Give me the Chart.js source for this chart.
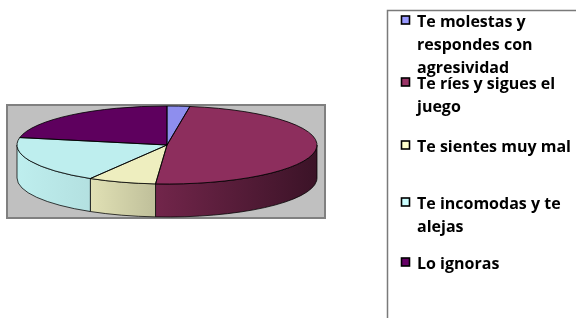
<!DOCTYPE html>
<html>
<head>
<meta charset="utf-8">
<script src="https://cdn.jsdelivr.net/npm/chart.js@4/dist/chart.umd.min.js"></script>
<style>
html,body{margin:0;padding:0;background:#fff;}
#wrap{position:relative;width:576px;height:318px;}
</style>
</head>
<body>
<div id="wrap"><canvas id="c" width="576" height="318"></canvas></div>
<script>
// ---- data ----
const categories = [
  ["Te molestas y", "respondes con", "agresividad"],
  ["Te ríes y sigues el", "juego"],
  ["Te sientes muy mal"],
  ["Te incomodas y te", "alejas"],
  ["Lo ignoras"]
];
const counts = [1, 20, 3, 8, 9];

// ---- styles ----
const topColors = ["#8E8EEE", "#8D2E5D", "#EEEEBF", "#BEEEEE", "#5E005E"];
const legendColors = ["#9999FF", "#993366", "#FFFFCC", "#CCFFFF", "#660066"];
const PIE_CY = 145;      // visual center of the top face
const SQUASH = 0.26;     // vertical squash of the pie
const DEPTH = 33;        // thickness of the 3D side
const legendBaseY = [27, 89, 152, 209, 269];
const LINE_H = 23;
const FONT = "bold 16px 'Open Sans', 'Noto Sans', sans-serif";

function hexToRgb(h){const n=parseInt(h.slice(1),16);return [(n>>16)&255,(n>>8)&255,n&255];}
function shade(h,f){const c=hexToRgb(h);return 'rgb('+c.map(v=>Math.round(v*f)).join(',')+')';}

const pie3d = {
  id: 'pie3d',
  beforeDatasetsDraw(chart){
    const ctx = chart.ctx;
    const meta = chart.getDatasetMeta(0);
    const arcs = meta.data;
    if(!arcs.length) return;
    const cx = arcs[0].x, r = arcs[0].outerRadius;
    const a = r, b = r*SQUASH;
    // plot area background
    ctx.save();
    ctx.fillStyle = '#C0C0C0';
    ctx.strokeStyle = '#808080';
    ctx.lineWidth = 2;
    const L = cx - a - 10, R = cx + a + 8, T = PIE_CY - b - 1, B = PIE_CY + b + DEPTH + 1;
    ctx.fillRect(L, T, R-L, B-T);
    ctx.strokeRect(L, T, R-L, B-T);
    // side walls
    arcs.forEach((arc,i)=>{
      const s = arc.startAngle, e = arc.endAngle;
      const pieces = [];
      for(let k=-1;k<=1;k++){
        const off = k*2*Math.PI;
        const ss = Math.max(s+off, 0), ee = Math.min(e+off, Math.PI);
        if(ee>ss) pieces.push([ss,ee]);
      }
      pieces.forEach(([ss,ee])=>{
        const g = ctx.createLinearGradient(cx-a,0,cx+a,0);
        g.addColorStop(0, shade(topColors[i],1.0));
        g.addColorStop(0.25, shade(topColors[i],0.94));
        g.addColorStop(0.47, shade(topColors[i],0.8));
        g.addColorStop(1, shade(topColors[i],0.42));
        ctx.beginPath();
        ctx.ellipse(cx, PIE_CY, a, b, 0, ss, ee, false);
        ctx.lineTo(cx + a*Math.cos(ee), PIE_CY + DEPTH + b*Math.sin(ee));
        ctx.ellipse(cx, PIE_CY + DEPTH, a, b, 0, ee, ss, true);
        ctx.closePath();
        ctx.fillStyle = g;
        ctx.fill();
        ctx.strokeStyle = 'rgba(0,0,0,0.75)';
        ctx.lineWidth = 1;
        ctx.stroke();
      });
    });
    ctx.restore();
    // squash transform for the library-drawn top face
    ctx.save();
    ctx.translate(0, PIE_CY);
    ctx.scale(1, SQUASH);
    ctx.translate(0, -arcs[0].y);
  },
  afterDatasetsDraw(chart){
    const ctx = chart.ctx;
    ctx.restore();
    const arcs = chart.getDatasetMeta(0).data;
    if(!arcs.length) return;
    const cx = arcs[0].x, a = arcs[0].outerRadius, b = a*SQUASH;
    ctx.save();
    ctx.strokeStyle = 'rgba(0,0,0,0.8)';
    ctx.lineWidth = 1;
    arcs.forEach(arc=>{
      ctx.beginPath();
      ctx.moveTo(cx, PIE_CY);
      ctx.ellipse(cx, PIE_CY, a, b, 0, arc.startAngle, arc.endAngle, false);
      ctx.closePath();
      ctx.stroke();
    });
    ctx.restore();
  },
  afterDraw(chart){
    const ctx = chart.ctx;
    ctx.save();
    // legend frame
    ctx.strokeStyle = '#7A7A7A';
    ctx.lineWidth = 1.5;
    ctx.beginPath();
    ctx.moveTo(387.5, 318);
    ctx.lineTo(387.5, 10.5);
    ctx.lineTo(576, 10.5);
    ctx.stroke();
    ctx.font = FONT;
    ctx.textBaseline = 'alphabetic';
    chart.data.labels.forEach((lines,i)=>{
      const y0 = legendBaseY[i];
      ctx.fillStyle = legendColors[i];
      ctx.fillRect(401.5, y0-11, 8, 8);
      ctx.strokeStyle = '#000';
      ctx.lineWidth = 1.6;
      ctx.strokeRect(401.5, y0-11, 8, 8);
      ctx.fillStyle = '#000';
      lines.forEach((ln,j)=>{
        ctx.fillText(ln, 417, y0 + j*LINE_H);
      });
    });
    ctx.restore();
  }
};

new Chart(document.getElementById('c'), {
  type: 'pie',
  data: {
    labels: categories,
    datasets: [{
      data: counts,
      backgroundColor: topColors,
      borderWidth: 0
    }]
  },
  options: {
    responsive: false,
    animation: false,
    layout: { padding: { left: 17, right: 259, top: 9, bottom: 9 } },
    plugins: { legend: { display: false }, tooltip: { enabled: false } }
  },
  plugins: [pie3d]
});
</script>
</body>
</html>
